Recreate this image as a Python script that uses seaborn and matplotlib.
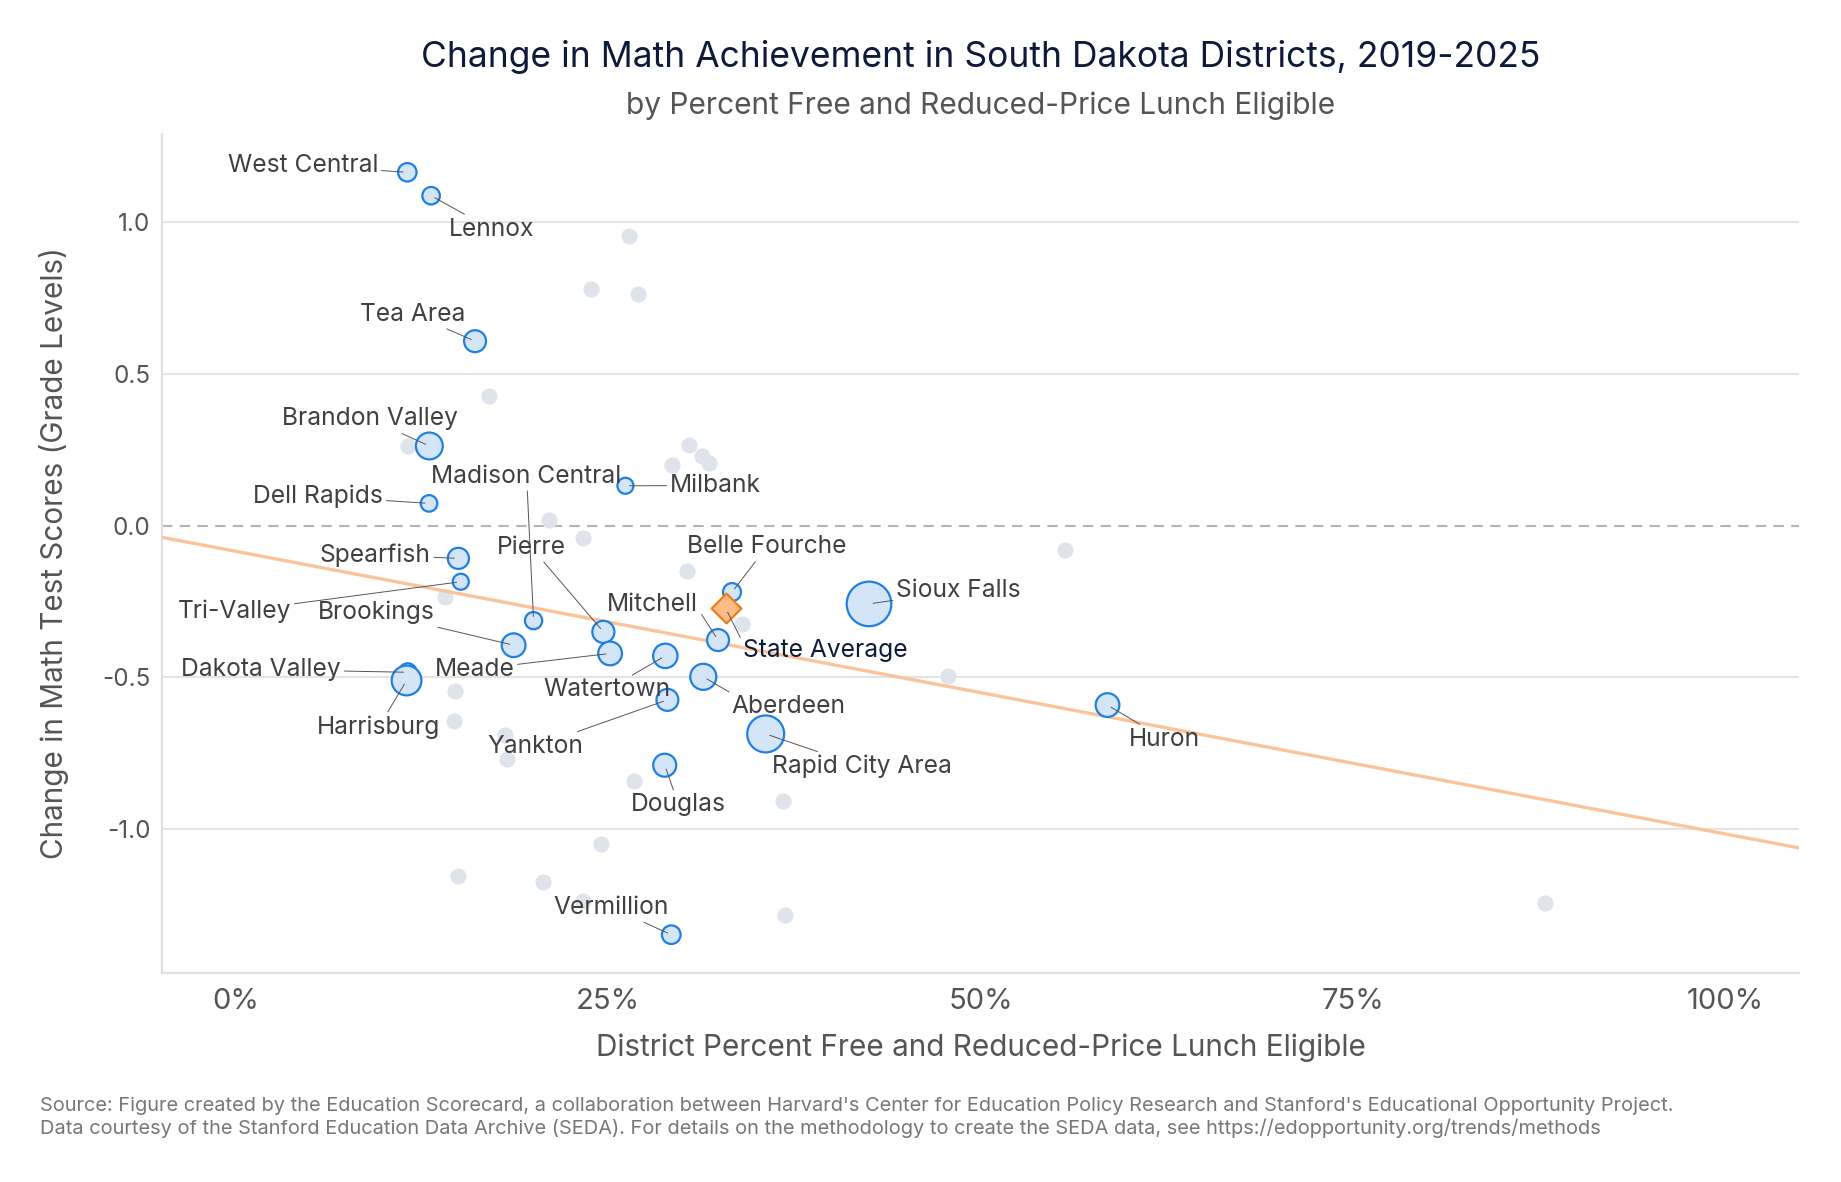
import numpy as np
import pandas as pd
import matplotlib
matplotlib.use("Agg")
import matplotlib.pyplot as plt
from matplotlib.ticker import PercentFormatter
import seaborn as sns

# Highlighted districts (labelled)
names = ["West Central", "Lennox", "Tea Area", "Brandon Valley", "Dell Rapids",
         "Milbank", "Madison Central", "Spearfish", "Tri-Valley", "Brookings",
         "Pierre", "Meade", "Watertown", "Yankton", "Mitchell", "Belle Fourche",
         "Aberdeen", "Rapid City Area", "Douglas", "Sioux Falls", "Huron",
         "Dakota Valley", "Harrisburg", "Vermillion"]
frl_pct = [0.115, 0.131, 0.1605, 0.1298, 0.1296, 0.2615, 0.1998, 0.1493, 0.1509, 0.1864,
           0.2467, 0.2512, 0.2883, 0.2897, 0.3237, 0.3331, 0.3138, 0.3557, 0.2879,
           0.4251, 0.5853, 0.1153, 0.1145, 0.2923]
math_change = [1.163, 1.086, 0.607, 0.262, 0.073, 0.131, -0.313, -0.108, -0.185, -0.394,
               -0.350, -0.421, -0.429, -0.574, -0.377, -0.219, -0.498, -0.686, -0.789,
               -0.258, -0.591, -0.483, -0.510, -1.347]
enrollment_k = [4.1, 3.7, 5.8, 8.7, 3.3, 3.1, 3.6, 5.4, 3.1, 6.8,
                5.9, 6.8, 7.2, 5.8, 5.8, 3.9, 8.2, 16.5, 6.4, 24.0,
                6.8, 3.9, 10.7, 4.2]

# Other districts (grey, unlabelled)
other_frl = [0.2638, 0.2385, 0.2701, 0.1701, 0.1155, 0.3041, 0.2930, 0.3128, 0.3175,
             0.2100, 0.2332, 0.3027, 0.1406, 0.3396, 0.5569, 0.4780, 0.1469, 0.1461,
             0.1809, 0.1820, 0.2673, 0.3676, 0.2449, 0.1489, 0.2060, 0.3689, 0.8791, 0.2330]
other_change = [0.954, 0.780, 0.764, 0.427, 0.262, 0.266, 0.201, 0.228, 0.205,
                0.019, -0.042, -0.149, -0.236, -0.325, -0.081, -0.494, -0.544, -0.645,
                -0.691, -0.768, -0.840, -0.907, -1.050, -1.154, -1.174, -1.282, -1.243, -1.235]

# State average
state_frl = [0.3289]
state_change = [-0.273]

# Fitted trend line
fit_intercept = -0.085
fit_slope = -0.93

x_limits = (-0.05, 1.05)
y_limits = (-1.472, 1.289)

# label placement: offset in points, alignment, leader start (relpos)
label_layout = {
    "West Central": (-21, 5, "right", (0.5, 0.5)),
    "Lennox": (12.5, -24, "left", (0.5, 0.5)),
    "Tea Area": (-6.7, 19.5, "right", (0.5, 0.5)),
    "Brandon Valley": (-43, 19.5, "center", (0.5, 0.5)),
    "Dell Rapids": (-33, 5.2, "right", (0.5, 0.5)),
    "Milbank": (32, 0.2, "left", (0.5, 0.5)),
    "Madison Central": (-5, 104, "center", (0.5, 0.5)),
    "Spearfish": (-20, 2.5, "right", (0.5, 0.5)),
    "Tri-Valley": (-122, -21.5, "right", (0.5, 0.5)),
    "Brookings": (-57, 23.5, "right", (0.5, 0.5)),
    "Pierre": (-52, 61, "center", (0.5, 0.5)),
    "Meade": (-69, -11.5, "right", (0.5, 0.5)),
    "Watertown": (-42, -24.5, "center", (0.5, 0.5)),
    "Yankton": (-95, -33.5, "center", (0.5, 0.5)),
    "Mitchell": (-47, 25.5, "center", (1.0, 0.3)),
    "Belle Fourche": (25, 32.5, "center", (0.5, 0.5)),
    "Aberdeen": (61, -21.5, "center", (0.1, 0.8)),
    "Rapid City Area": (69, -23.5, "center", (0.5, 0.5)),
    "Douglas": (10, -28.5, "center", (0.5, 0.5)),
    "Sioux Falls": (19.5, 9.5, "left", (0.5, 0.5)),
    "Huron": (41, -24.5, "center", (0.5, 0.5)),
    "Dakota Valley": (-48, 2, "right", (0.5, 0.5)),
    "Harrisburg": (-20, -33.5, "center", (0.5, 0.5)),
    "Vermillion": (-43, 19.5, "center", (0.5, 0.5)),
}

df = pd.DataFrame({"district": names, "frl": frl_pct, "change": math_change,
                   "enrollment": enrollment_k})
others = pd.DataFrame({"frl": other_frl, "change": other_change})
state = pd.DataFrame({"frl": state_frl, "change": state_change})

sns.set_theme(style="white")
plt.rcParams["font.family"] = ["Inter", "DejaVu Sans"]
plt.rcParams["axes.unicode_minus"] = False

fig = plt.figure(figsize=(18.41, 11.82), dpi=100)
ax = fig.add_axes([0.0878, 0.1771, 0.8896, 0.7095])

# gridlines
for yv in [-1.0, -0.5, 0.5, 1.0]:
    ax.axhline(yv, color="#e4e4e4", lw=1.5, zorder=0)
ax.axhline(0, color="#b4b4b4", lw=1.5, ls=(0, (5, 3.5)), zorder=0)

sns.scatterplot(data=others, x="frl", y="change", ax=ax, color="#dfe4ea",
                s=135, linewidth=0, zorder=2, legend=False)

# trend line
line_x = np.array(x_limits)
trend = pd.DataFrame({"frl": line_x, "change": fit_intercept + fit_slope * line_x})
sns.lineplot(data=trend, x="frl", y="change", ax=ax, color="#fbc39a", lw=2.4, zorder=3)

sns.scatterplot(data=df, x="frl", y="change", size="enrollment",
                sizes=(0, 1031), size_norm=(0, 24), ax=ax, color="#d3e5f7",
                edgecolor="#1f80e0", linewidth=1.6, zorder=4, legend=False)

sns.scatterplot(data=state, x="frl", y="change", ax=ax, marker="D", s=230,
                color="#fbbd85", edgecolor="#f07d1a", linewidth=1.6, zorder=5,
                legend=False)

label_color = "#404040"
for name, xv, yv in zip(names, frl_pct, math_change):
    dx, dy, ha, rel = label_layout[name]
    ax.annotate(name, xy=(xv, yv), xytext=(dx, dy), textcoords="offset points",
                ha=ha, va="center", fontsize=17.7, color=label_color, zorder=6,
                arrowprops=dict(arrowstyle="-", color="#555555", lw=0.7,
                                shrinkA=0, shrinkB=3, relpos=rel))
ax.annotate("State Average", xy=(state_frl[0], state_change[0]), xytext=(72, -30.5),
            textcoords="offset points", ha="center", va="center", fontsize=17.7,
            color="#0e1a3a", zorder=6,
            arrowprops=dict(arrowstyle="-", color="#555555", lw=0.7,
                            shrinkA=0, shrinkB=3, relpos=(0.0, 0.8)))

ax.set_xlim(*x_limits)
ax.set_ylim(*y_limits)
ax.set_xticks([0, 0.25, 0.5, 0.75, 1.0])
ax.xaxis.set_major_formatter(PercentFormatter(1.0, decimals=0))
ax.set_yticks([-1.0, -0.5, 0.0, 0.5, 1.0])
ax.set_yticklabels(["-1.0", "-0.5", "0.0", "0.5", "1.0"])
ax.tick_params(axis="x", labelsize=21, colors="#e0e0e0", labelcolor="#555555",
               length=5, width=1.2, pad=6)
ax.tick_params(axis="y", labelsize=17.5, colors="#e0e0e0", labelcolor="#555555",
               length=4, width=1.2, pad=4)

for side in ["top", "right"]:
    ax.spines[side].set_visible(False)
for side in ["left", "bottom"]:
    ax.spines[side].set_color("#e0e0e0")
    ax.spines[side].set_linewidth(1.6)

ax.set_xlabel("")
ax.set_ylabel("")
fig.text(0.5327, 0.1138, "District Percent Free and Reduced-Price Lunch Eligible",
         ha="center", va="center", fontsize=21.4, color="#555555")
fig.text(0.0291, 0.5318, "Change in Math Test Scores (Grade Levels)", rotation=90,
         ha="center", va="center", fontsize=21.4, color="#555555")

fig.text(0.5327, 0.952, "Change in Math Achievement in South Dakota Districts, 2019-2025",
         ha="center", va="center", fontsize=25.5, color="#0e1a3a")
fig.text(0.5327, 0.9107, "by Percent Free and Reduced-Price Lunch Eligible",
         ha="center", va="center", fontsize=21.5, color="#555555")

fig.text(0.0215, 0.0643,
         "Source: Figure created by the Education Scorecard, a collaboration between Harvard's "
         "Center for Education Policy Research and Stanford's Educational Opportunity Project.",
         ha="left", va="center", fontsize=14.4, color="#777777")
fig.text(0.0215, 0.0454,
         "Data courtesy of the Stanford Education Data Archive (SEDA). For details on the "
         "methodology to create the SEDA data, see https://edopportunity.org/trends/methods",
         ha="left", va="center", fontsize=14.4, color="#777777")

fig.savefig("out.png", dpi=100)
